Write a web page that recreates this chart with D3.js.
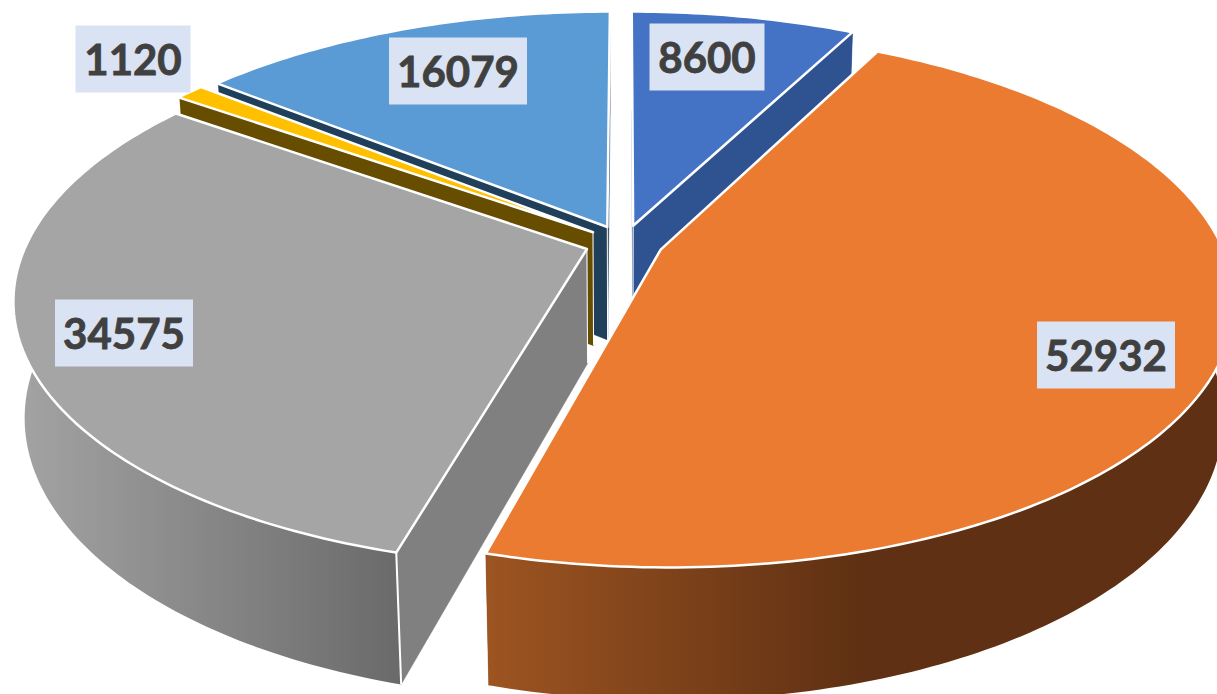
<!DOCTYPE html>
<html>
<head>
<meta charset="utf-8">
<script src="https://cdn.jsdelivr.net/npm/d3@7"></script>
<style>
  html, body { margin: 0; padding: 0; background: #fff; overflow: hidden; }
  svg { display: block; }
</style>
</head>
<body>
<svg id="chart" width="1217" height="694"></svg>
<script>
const values = [8600, 52932, 34575, 1120, 16079];
const topColors = ["#4472c4", "#ea7b31", "#a5a5a5", "#ffc000", "#5b9bd5"];
const wallColors = ["#2f5290", "#8b4a1e", "#808080", "#664d00", "#203f5a"];
// outer wall shading, left colour and right colour
const wallShade = [
  ["#2f5290", "#2f5290", 0, 1],
  ["#9c5421", "#5f3013", 490, 860],
  ["#a3a3a3", "#6a6a6a", 20, 400],
  ["#664d00", "#664d00", 0, 1],
  ["#203f5a", "#203f5a", 0, 1]
];
const labelCenters = [[707, 57], [1106, 355], [124, 333], [133, 59], [458, 71]];
const labelText = ["8600", "52932", "34575", "1120", "16079"];
// back to front, orange ends up over everything it touches
const drawOrder = [0, 4, 3, 2, 1];
// back slices run a bit long in the original's perspective
const radiusScale = [1.01, 1, 1, 1.02, 1.015];

const width = 1217, height = 694;
const cx = 624, cy = 243;
const rx = 560, ry = 257, depth = 116;
const persp = 0.183, perspZ = 0.018;
const explode = 0.07;

const svg = d3.select("#chart");
const defs = svg.append("defs");

const pie = d3.pie().sort(null).value(d => d).startAngle(0).endAngle(2 * Math.PI);
const arcs = pie(values);

// disc coords -> screen, perspective so that top of the disc is further away
const project = (u, v, z) => {
  const w = 1 + persp * v + perspZ * z;
  return [cx + rx * u / w, cy + (-ry * v + depth * z) / w];
};
const line = d3.line();

const rim = (d, z) => {
  const b = (d.startAngle + d.endAngle) / 2;
  const r = radiusScale[d.index];
  const ox = explode * Math.sin(b), oy = explode * Math.cos(b);
  const steps = Math.max(4, Math.ceil((d.endAngle - d.startAngle) * 60));
  const pts = d3.range(steps + 1).map(i => {
    const a = d.startAngle + (d.endAngle - d.startAngle) * i / steps;
    return project(ox + r * Math.sin(a), oy + r * Math.cos(a), z);
  });
  return { apex: project(ox, oy, z), pts };
};

const g = svg.append("g");

drawOrder.forEach(i => {
  const d = arcs[i];
  const top = rim(d, 0), bot = rim(d, 1);
  const first = top.pts[0], last = top.pts[top.pts.length - 1];
  const bFirst = bot.pts[0], bLast = bot.pts[bot.pts.length - 1];

  // radial walls
  [[top.apex, first, bFirst, bot.apex], [top.apex, last, bLast, bot.apex]].forEach(q => {
    g.append("path")
      .attr("d", line(q) + "Z")
      .attr("fill", wallColors[i])
      .attr("stroke", wallColors[i])
      .attr("stroke-width", 0.5);
  });
  // white edges of the wall at the corners
  g.append("path")
    .attr("d", line([top.apex, bot.apex]))
    .attr("stroke", "#fff").attr("stroke-width", 1).attr("fill", "none");

  // outer wall
  const id = "shade" + i;
  const s = wallShade[i];
  const grad = defs.append("linearGradient")
    .attr("id", id)
    .attr("gradientUnits", "userSpaceOnUse")
    .attr("x1", s[2]).attr("x2", s[3]).attr("y1", 0).attr("y2", 0);
  grad.append("stop").attr("offset", 0).attr("stop-color", s[0]);
  grad.append("stop").attr("offset", 1).attr("stop-color", s[1]);
  g.append("path")
    .attr("d", line(top.pts.concat(bot.pts.slice().reverse())) + "Z")
    .attr("fill", `url(#${id})`);
  g.append("path")
    .attr("d", line([first, bFirst]))
    .attr("stroke", "#fff").attr("stroke-width", 2).attr("fill", "none");

  // top face
  g.append("path")
    .attr("d", line([top.apex].concat(top.pts)) + "Z")
    .attr("fill", topColors[i])
    .attr("stroke", "#fff")
    .attr("stroke-width", 2.5)
    .attr("stroke-linejoin", "round");
});

// data labels
labelText.forEach((t, i) => {
  const [x, y] = labelCenters[i];
  const bw = t.length === 5 ? 138 : 115, bh = 67;
  svg.append("rect")
    .attr("x", x - bw / 2).attr("y", y - bh / 2)
    .attr("width", bw).attr("height", bh)
    .attr("fill", "#dae3f3");
  svg.append("text")
    .attr("x", x).attr("y", y + 16)
    .attr("text-anchor", "middle")
    .attr("font-family", "Lato, 'Open Sans', sans-serif")
    .attr("font-weight", 700)
    .attr("font-size", 42)
    .attr("fill", "#404040")
    .attr("stroke", "#404040")
    .attr("stroke-width", 0.8)
    .text(t);
});
</script>
</body>
</html>
